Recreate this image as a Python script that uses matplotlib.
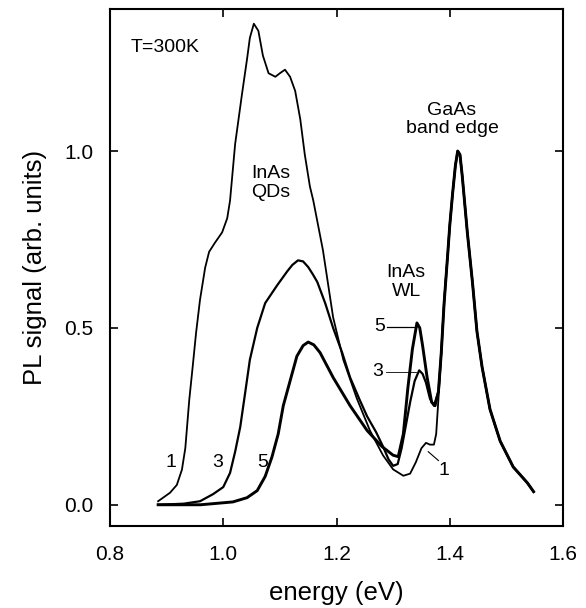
import numpy as np
from matplotlib import pyplot as plt


# sample 1: strong QD emission, weak wetting layer bump
energy_1 = [0.885, 0.906, 0.918, 0.927, 0.933, 0.940, 0.946, 0.952, 0.959, 0.968,
            0.975, 0.985, 0.998, 1.007, 1.012, 1.021, 1.033, 1.042, 1.047, 1.054,
            1.062, 1.070, 1.080, 1.092, 1.100, 1.109, 1.118, 1.127, 1.136, 1.144,
            1.153, 1.159, 1.176, 1.194, 1.212, 1.236, 1.259, 1.282, 1.300, 1.318,
            1.330, 1.340, 1.350, 1.358, 1.365, 1.372, 1.376, 1.380, 1.384, 1.388,
            1.392]
signal_1 = [0.010, 0.034, 0.056, 0.099, 0.160, 0.297, 0.390, 0.486, 0.580, 0.670,
            0.715, 0.740, 0.770, 0.810, 0.860, 1.020, 1.160, 1.260, 1.320, 1.360,
            1.340, 1.270, 1.220, 1.210, 1.220, 1.230, 1.210, 1.170, 1.090, 0.990,
            0.900, 0.860, 0.720, 0.530, 0.410, 0.300, 0.210, 0.140, 0.100, 0.082,
            0.088, 0.120, 0.160, 0.175, 0.170, 0.170, 0.200, 0.300, 0.400, 0.520,
            0.620]

# sample 3
energy_3 = [0.885, 0.930, 0.959, 0.982, 1.000, 1.012, 1.021, 1.030, 1.039, 1.047,
            1.060, 1.074, 1.095, 1.113, 1.122, 1.132, 1.141, 1.150, 1.158, 1.166,
            1.180, 1.194, 1.210, 1.224, 1.240, 1.254, 1.270, 1.282, 1.292, 1.300,
            1.308, 1.315, 1.322, 1.330, 1.338, 1.346, 1.352, 1.358, 1.365, 1.372,
            1.380, 1.385, 1.390]
signal_3 = [0.000, 0.003, 0.010, 0.030, 0.050, 0.090, 0.150, 0.220, 0.320, 0.410,
            0.500, 0.570, 0.620, 0.660, 0.678, 0.691, 0.688, 0.672, 0.652, 0.630,
            0.570, 0.500, 0.430, 0.360, 0.300, 0.250, 0.205, 0.165, 0.128, 0.110,
            0.115, 0.160, 0.220, 0.290, 0.350, 0.380, 0.370, 0.345, 0.300, 0.280,
            0.320, 0.430, 0.570]

# sample 5: weak QD emission, strong wetting layer peak
energy_5 = [0.885, 0.960, 1.017, 1.042, 1.060, 1.074, 1.086, 1.097, 1.106, 1.118,
            1.130, 1.141, 1.150, 1.160, 1.171, 1.194, 1.224, 1.254, 1.280, 1.300,
            1.309, 1.318, 1.326, 1.334, 1.342, 1.347, 1.352, 1.360, 1.368, 1.374,
            1.380, 1.385, 1.390]
signal_5 = [0.000, 0.000, 0.008, 0.020, 0.040, 0.080, 0.135, 0.200, 0.280, 0.350,
            0.420, 0.450, 0.460, 0.452, 0.430, 0.360, 0.280, 0.210, 0.165, 0.140,
            0.136, 0.200, 0.330, 0.440, 0.514, 0.500, 0.450, 0.360, 0.290, 0.280,
            0.320, 0.430, 0.570]

# GaAs band edge peak, common to all samples (normalised to 1)
energy_gaas = [1.396, 1.400, 1.405, 1.410, 1.414, 1.418, 1.422, 1.431, 1.440, 1.448,
               1.457, 1.471, 1.489, 1.512, 1.537, 1.548]
signal_gaas = [0.700, 0.790, 0.880, 0.960, 1.000, 0.990, 0.930, 0.770, 0.630, 0.490,
               0.390, 0.270, 0.180, 0.107, 0.062, 0.037]

x_ticks = [0.8, 1.0, 1.2, 1.4, 1.6]
y_ticks = [0.0, 0.5, 1.0]


def main() -> None:
    plt.rcParams["font.family"] = ["Liberation Sans", "DejaVu Sans"]

    fig = plt.figure(figsize=(5.86, 6.08), dpi=100)
    ax = fig.add_axes([0.1877, 0.1349, 0.7731, 0.8511])

    for energy, signal, lw in [(energy_1, signal_1, 1.3), (energy_3, signal_3, 1.6), (energy_5, signal_5, 2.1)]:
        x = np.concatenate([energy, energy_gaas])
        y = np.concatenate([signal, signal_gaas])
        ax.plot(x, y, color="black", lw=lw, solid_joinstyle="round")

    ax.set_xlim(0.8, 1.6)
    ax.set_ylim(-0.06, 1.403)
    ax.set_xticks(x_ticks)
    ax.set_xticklabels([f"{t:.1f}" for t in x_ticks])
    ax.set_yticks(y_ticks)
    ax.set_yticklabels([f"{t:.1f}" for t in y_ticks])
    ax.tick_params(direction="in", length=6, width=1.2, top=True, right=True, labelsize=15)
    ax.tick_params(axis="x", pad=14)
    ax.tick_params(axis="y", pad=12)
    for spine in ax.spines.values():
        spine.set_linewidth(1.5)

    ax.set_xlabel("energy (eV)", fontsize=18.5, labelpad=12)
    ax.set_ylabel("PL signal (arb. units)", fontsize=18.5, labelpad=12)

    ann = dict(fontsize=14, ha="center", va="center", linespacing=1.1)
    ax.text(0.836, 1.294, "T=300K", fontsize=14, ha="left", va="center")
    ax.text(1.084, 0.91, "InAs\nQDs", **ann)
    ax.text(1.323, 0.63, "InAs\nWL", **ann)
    ax.text(1.404, 1.09, "GaAs\nband edge", **ann)

    # sample numbers on the rising edges
    ax.text(0.908, 0.12, "1", **ann)
    ax.text(0.991, 0.12, "3", **ann)
    ax.text(1.069, 0.12, "5", **ann)

    # wetting layer labels with leaders
    ax.text(1.277, 0.503, "5", **ann)
    ax.plot([1.290, 1.340], [0.503, 0.503], color="black", lw=0.9)
    ax.text(1.273, 0.376, "3", **ann)
    ax.plot([1.287, 1.340], [0.376, 0.376], color="black", lw=0.6)
    ax.text(1.389, 0.098, "1", **ann)
    ax.plot([1.380, 1.362], [0.125, 0.150], color="black", lw=0.8)

    fig.savefig("out.png", dpi=100)


if __name__ == "__main__":
    main()
